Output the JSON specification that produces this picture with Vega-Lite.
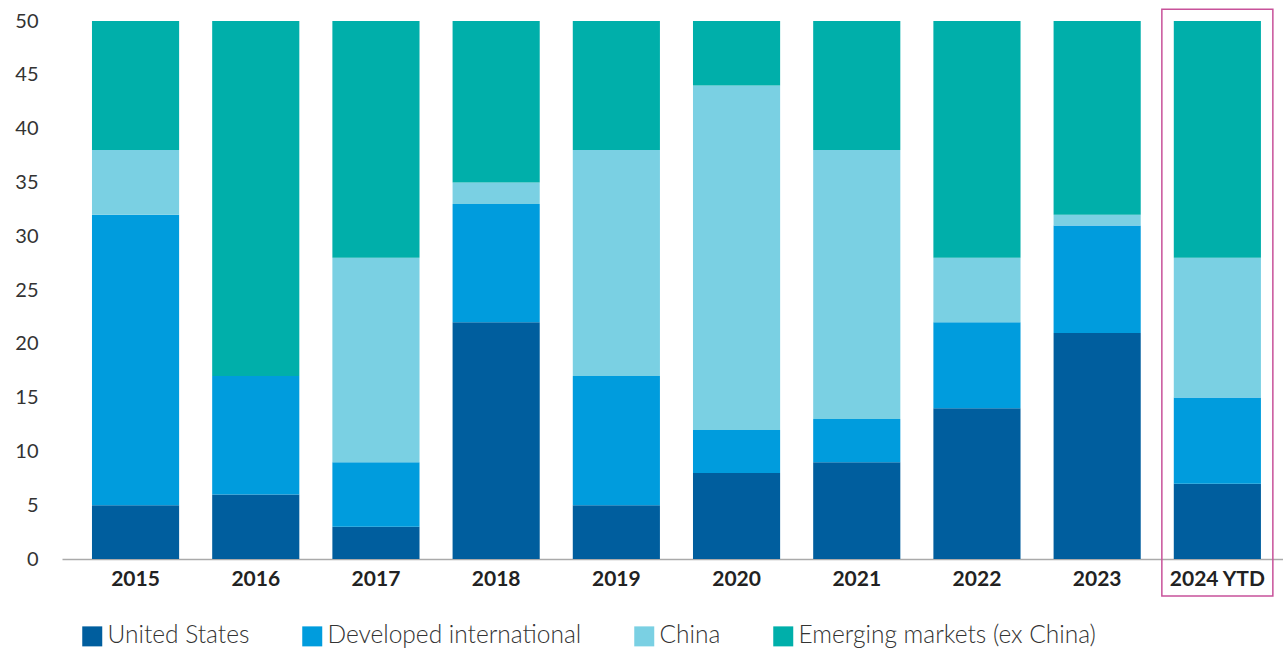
{
  "$schema": "https://vega.github.io/schema/vega-lite/v6.json",
  "autosize": "none",
  "width": 1221,
  "height": 538,
  "padding": {"left": 62, "top": 21, "right": 0, "bottom": 91},
  "background": "white",
  "config": {
    "font": "Lato",
    "view": {"stroke": null}
  },
  "datasets": {
    "shares": [
      {"year": "2015", "region": "United States", "k": 1, "value": 5},
      {"year": "2015", "region": "Developed international", "k": 2, "value": 27},
      {"year": "2015", "region": "China", "k": 3, "value": 6},
      {"year": "2015", "region": "Emerging markets (ex China)", "k": 4, "value": 12},
      {"year": "2016", "region": "United States", "k": 1, "value": 6},
      {"year": "2016", "region": "Developed international", "k": 2, "value": 11},
      {"year": "2016", "region": "China", "k": 3, "value": 0},
      {"year": "2016", "region": "Emerging markets (ex China)", "k": 4, "value": 33},
      {"year": "2017", "region": "United States", "k": 1, "value": 3},
      {"year": "2017", "region": "Developed international", "k": 2, "value": 6},
      {"year": "2017", "region": "China", "k": 3, "value": 19},
      {"year": "2017", "region": "Emerging markets (ex China)", "k": 4, "value": 22},
      {"year": "2018", "region": "United States", "k": 1, "value": 22},
      {"year": "2018", "region": "Developed international", "k": 2, "value": 11},
      {"year": "2018", "region": "China", "k": 3, "value": 2},
      {"year": "2018", "region": "Emerging markets (ex China)", "k": 4, "value": 15},
      {"year": "2019", "region": "United States", "k": 1, "value": 5},
      {"year": "2019", "region": "Developed international", "k": 2, "value": 12},
      {"year": "2019", "region": "China", "k": 3, "value": 21},
      {"year": "2019", "region": "Emerging markets (ex China)", "k": 4, "value": 12},
      {"year": "2020", "region": "United States", "k": 1, "value": 8},
      {"year": "2020", "region": "Developed international", "k": 2, "value": 4},
      {"year": "2020", "region": "China", "k": 3, "value": 32},
      {"year": "2020", "region": "Emerging markets (ex China)", "k": 4, "value": 6},
      {"year": "2021", "region": "United States", "k": 1, "value": 9},
      {"year": "2021", "region": "Developed international", "k": 2, "value": 4},
      {"year": "2021", "region": "China", "k": 3, "value": 25},
      {"year": "2021", "region": "Emerging markets (ex China)", "k": 4, "value": 12},
      {"year": "2022", "region": "United States", "k": 1, "value": 14},
      {"year": "2022", "region": "Developed international", "k": 2, "value": 8},
      {"year": "2022", "region": "China", "k": 3, "value": 6},
      {"year": "2022", "region": "Emerging markets (ex China)", "k": 4, "value": 22},
      {"year": "2023", "region": "United States", "k": 1, "value": 21},
      {"year": "2023", "region": "Developed international", "k": 2, "value": 10},
      {"year": "2023", "region": "China", "k": 3, "value": 1},
      {"year": "2023", "region": "Emerging markets (ex China)", "k": 4, "value": 18},
      {"year": "2024 YTD", "region": "United States", "k": 1, "value": 7},
      {"year": "2024 YTD", "region": "Developed international", "k": 2, "value": 8},
      {"year": "2024 YTD", "region": "China", "k": 3, "value": 13},
      {"year": "2024 YTD", "region": "Emerging markets (ex China)", "k": 4, "value": 22}
    ],
    "highlight": [
      {"year": "2024 YTD", "top": 51.1, "bottom": -3.45}
    ]
  },
  "layer": [
    {
      "data": {"name": "shares"},
      "mark": {"type": "bar"},
      "encoding": {
        "x": {
          "field": "year",
          "type": "nominal",
          "sort": null,
          "scale": {"paddingInner": 0.275, "paddingOuter": 0.2165, "align": 0.576},
          "axis": {
            "title": null,
            "labelAngle": 0,
            "labelFontSize": 21,
            "labelFontWeight": "bold",
            "labelColor": "#222222",
            "labelPadding": 9,
            "ticks": false,
            "domainColor": "#aaaaaa",
            "domainWidth": 1.5,
            "grid": false
          }
        },
        "y": {
          "field": "value",
          "type": "quantitative",
          "stack": "zero",
          "scale": {"domain": [0, 50], "nice": false},
          "axis": {
            "title": null,
            "values": [0, 5, 10, 15, 20, 25, 30, 35, 40, 45, 50],
            "labelFontSize": 20,
            "labelColor": "#333333",
            "labelPadding": 24,
            "ticks": false,
            "domain": false,
            "grid": false
          }
        },
        "color": {
          "field": "region",
          "type": "nominal",
          "sort": ["United States", "Developed international", "China", "Emerging markets (ex China)"],
          "scale": {
            "domain": ["United States", "Developed international", "China", "Emerging markets (ex China)"],
            "range": ["#005E9E", "#009CDD", "#7AD0E3", "#00AFAA"]
          },
          "legend": {
            "title": null,
            "orient": "none",
            "direction": "horizontal",
            "legendX": 18,
            "legendY": 603,
            "symbolType": "square",
            "symbolSize": 400,
            "symbolStrokeWidth": 0,
            "symbolOpacity": 1,
            "labelFontSize": 24.5,
            "labelFontWeight": 300,
            "labelColor": "#333333",
            "labelOffset": 3,
            "labelLimit": 0,
            "columnPadding": 50,
            "columns": 4
          }
        },
        "order": {"field": "k", "type": "quantitative"}
      }
    },
    {
      "data": {"name": "highlight"},
      "mark": {"type": "bar", "width": 111, "filled": false, "stroke": "#C8529A", "strokeWidth": 1.5, "clip": false},
      "encoding": {
        "x": {"field": "year", "type": "nominal"},
        "y": {"field": "top", "type": "quantitative"},
        "y2": {"field": "bottom"}
      }
    }
  ]
}
